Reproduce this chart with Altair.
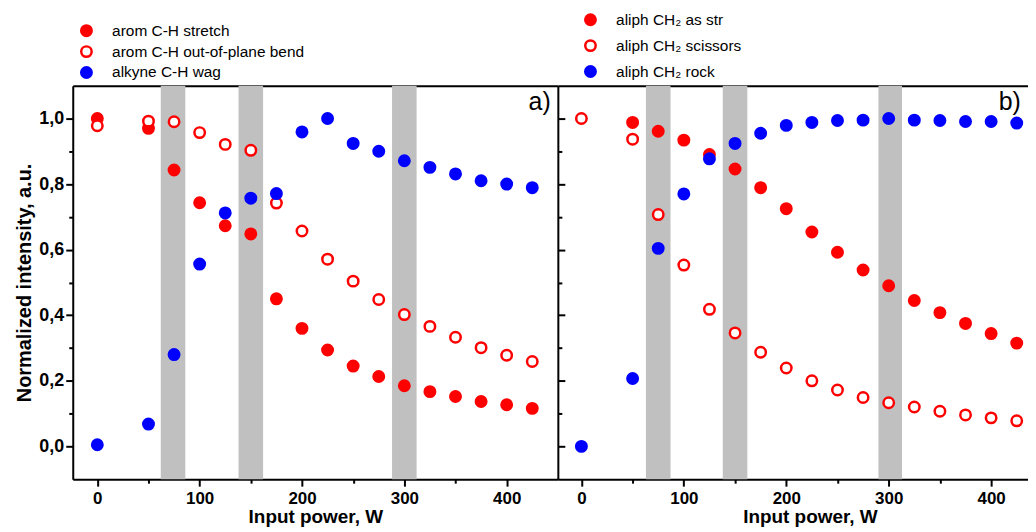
import altair as alt
import pandas as pd

# ---------------- data ----------------
power = [0, 50, 75, 100, 125, 150, 175, 200, 225, 250, 275, 300, 325, 350, 375, 400, 425]

names_a = ["arom  C-H stretch", "arom C-H out-of-plane bend", "alkyne C-H wag"]
a_stretch = [1.0, 0.97, 0.843, 0.743, 0.673, 0.648, 0.45, 0.36, 0.294, 0.245, 0.213, 0.185, 0.167, 0.152, 0.137, 0.127, 0.116]
a_bend = [0.978, 0.992, 0.99, 0.957, 0.921, 0.903, 0.742, 0.657, 0.571, 0.504, 0.448, 0.402, 0.366, 0.333, 0.301, 0.278, 0.259]
a_wag = [0.005, 0.068, 0.28, 0.556, 0.712, 0.757, 0.771, 0.959, 1.0, 0.924, 0.9, 0.871, 0.851, 0.831, 0.81, 0.8, 0.789]

names_b = ["aliph CH\u2082 as str", "aliph CH\u2082 scissors", "aliph CH\u2082 rock"]
power_b_str = [50, 75, 100, 125, 150, 175, 200, 225, 250, 275, 300, 325, 350, 375, 400, 425]
b_asstr = [0.988, 0.961, 0.934, 0.89, 0.846, 0.789, 0.725, 0.654, 0.592, 0.538, 0.49, 0.445, 0.408, 0.375, 0.344, 0.315]
b_sciss = [1.0, 0.937, 0.707, 0.553, 0.418, 0.346, 0.287, 0.239, 0.2, 0.172, 0.149, 0.133, 0.12, 0.107, 0.096, 0.087, 0.078]
b_rock = [0.0, 0.207, 0.604, 0.77, 0.877, 0.924, 0.955, 0.979, 0.988, 0.994, 0.995, 1.0, 0.995, 0.994, 0.991, 0.991, 0.986]

band_start_a = [62, 138, 288]
band_end_a = [86, 162, 312]
band_start_b = [63, 138, 290]
band_end_b = [87, 162, 313]

x_ticks = [0, 50, 100, 150, 200, 250, 300, 350, 400]
y_ticks = [0.0, 0.1, 0.2, 0.3, 0.4, 0.5, 0.6, 0.7, 0.8, 0.9, 1.0]

# ---------------- styling ----------------
FONT = "Liberation Sans"
RED = "#ff0000"
BLUE = "#0000ff"
WHITE = "#ffffff"
GRAY = "#c0c0c0"
YDOM = [-0.1, 1.1]


def long_df(xs_list, ys_list, names):
    rows = []
    for xs, ys, n in zip(xs_list, ys_list, names):
        for x, y in zip(xs, ys):
            rows.append({"power": x, "value": y, "series": n})
    return pd.DataFrame(rows)


df_a = long_df([power, power, power], [a_stretch, a_bend, a_wag], names_a)
df_b = long_df([power_b_str, power, power], [b_asstr, b_sciss, b_rock], names_b)
bands_a = pd.DataFrame({"start": band_start_a, "end": band_end_a})
bands_b = pd.DataFrame({"start": band_start_b, "end": band_end_b})

x_minor = {"condition": {"test": "datum.value % 100 != 0", "value": 4}, "value": 7}
y_minor = {"condition": {"test": "round(datum.value * 10) % 2 == 1", "value": 4}, "value": 7}


def panel(df, names, bands, xdom, width, tag, leg_x, leg_y, row_pad, show_y, title_x):
    xs = alt.Scale(domain=xdom, nice=False, zero=False)
    ys = alt.Scale(domain=YDOM, nice=False, zero=False)

    band = alt.Chart(bands).mark_rect(color=GRAY).encode(
        x=alt.X("start:Q", scale=xs, axis=None),
        x2="end:Q",
    )

    legend = alt.Legend(
        title=None, orient="none", legendX=leg_x, legendY=leg_y,
        symbolType="circle", symbolSize=110, symbolStrokeWidth=2.5,
        labelFont=FONT, labelFontSize=15.5, labelFontWeight="normal", labelColor="black",
        rowPadding=row_pad, labelOffset=18, padding=0, labelLimit=400,
    )

    ax_kw = dict(
        values=x_ticks, labelExpr="datum.value % 100 == 0 ? datum.label : ''",
        tickSize=x_minor, title="Input power, W", titleFontSize=19, labelFontSize=17,
        labelPadding=4, titlePadding=2,
    )
    if title_x is not None:
        ax_kw.update(titleX=title_x, titleAlign="center")
    x_axis = alt.Axis(**ax_kw)
    if show_y:
        y_axis = alt.Axis(
            values=y_ticks,
            labelExpr="round(datum.value * 10) % 2 == 0 ? replace(format(datum.value, '.1f'), '.', ',') : ''",
            tickSize=y_minor, title="Normalized intensity, a.u.", labelPadding=2, titlePadding=4,
        )
    else:
        y_axis = None

    pts = alt.Chart(df).mark_circle(size=110, strokeWidth=2.5, opacity=1).encode(
        x=alt.X("power:Q", scale=xs, axis=x_axis),
        y=alt.Y("value:Q", scale=ys, axis=y_axis),
        fill=alt.Fill("series:N", scale=alt.Scale(domain=names, range=[RED, WHITE, BLUE]), legend=legend),
        stroke=alt.Stroke("series:N", scale=alt.Scale(domain=names, range=[RED, RED, BLUE]), legend=legend),
    )

    tag_df = pd.DataFrame({"tx": [xdom[1] - 7], "ty": [1.05], "t": [tag]})
    if show_y:
        right_axis = alt.Axis(orient="right", values=y_ticks, labels=False, tickSize=y_minor, title=None)
    else:
        right_axis = None
    txt = alt.Chart(tag_df).mark_text(
        align="right", baseline="middle", font=FONT, fontSize=25, color="black"
    ).encode(
        x=alt.X("tx:Q", scale=xs, axis=alt.Axis(orient="top", labels=False, ticks=False, title=None)),
        y=alt.Y("ty:Q", scale=ys, axis=right_axis),
        text="t:N",
    )

    return alt.layer(band, pts, txt).resolve_axis(x="independent", y="independent").properties(
        width=width, height=395
    )


pa = panel(df_a, names_a, bands_a, [-24, 450], 487, "a)", 6, -63, 0, True, None)
pb = panel(df_b, names_b, bands_b, [-23, 436], 472, "b)", 25, -74, 5, False, 253)

chart = alt.hconcat(pa, pb, spacing=0, bounds="flush").resolve_scale(
    x="independent", fill="independent", stroke="independent"
).properties(
    padding={"left": 6, "top": 3, "right": 0, "bottom": 0}
).configure_view(stroke=None).configure_axis(
    domainColor="black", domainWidth=2, tickColor="black", tickWidth=2, grid=False,
    labelFont=FONT, labelFontSize=18, labelFontWeight="bold", labelColor="black",
    titleFont=FONT, titleFontSize=20, titleFontWeight="bold", titleColor="black",
)

chart.save("out.html", embed_options={"renderer": "svg", "actions": False})
